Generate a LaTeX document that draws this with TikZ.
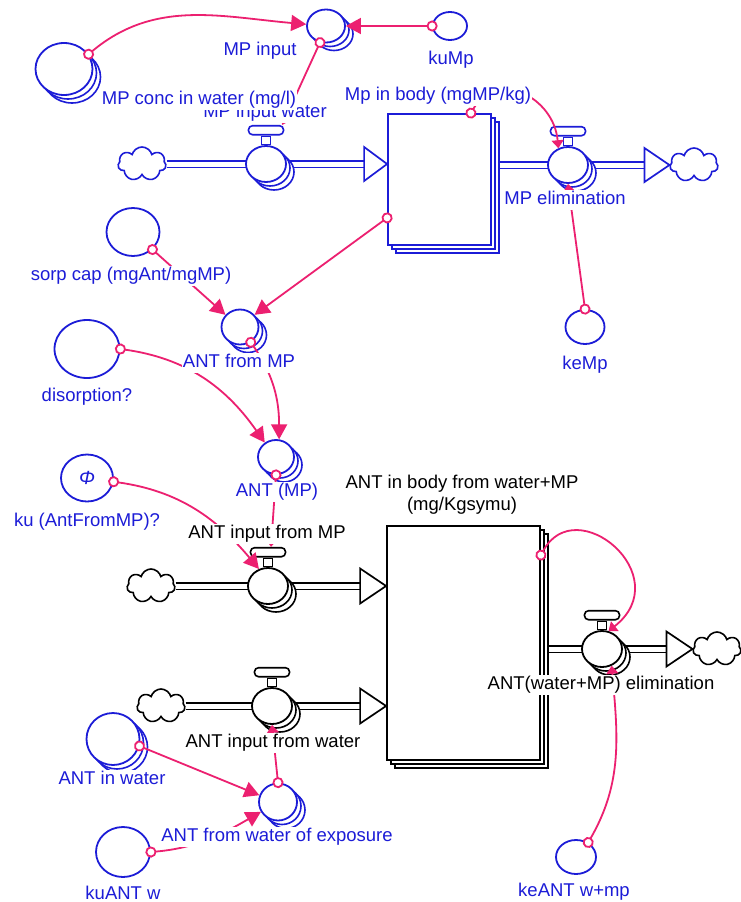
\documentclass[tikz,border=0pt]{standalone}
\usepackage{fontspec}
\setmainfont{Liberation Sans}
\usetikzlibrary{arrows.meta,calc,shapes.geometric,shapes.symbols,shadows}
\definecolor{mblue}{RGB}{28,28,215}
\definecolor{mpink}{RGB}{236,32,112}
\tikzset{
  stack/.style={general shadow={shadow xshift=8pt,shadow yshift=-8pt,draw=#1,fill=white,line width=1.6pt},
                general shadow={shadow xshift=4pt,shadow yshift=-4pt,draw=#1,fill=white,line width=1.6pt}},
  conv/.style 2 args={ellipse,draw=mblue,fill=white,line width=1.8pt,inner sep=0pt,minimum width=#1,minimum height=#2},
  aconv/.style 2 args={conv={#1}{#2},stack=mblue},
  valve/.style={ellipse,draw=#1,fill=white,line width=1.8pt,inner sep=0pt,minimum width=40pt,minimum height=36pt,stack=#1},
  vstem/.style={rectangle,draw=#1,fill=white,line width=1.6pt,inner sep=0pt,minimum width=9pt,minimum height=8pt,anchor=south},
  vbar/.style={rectangle,rounded corners=4pt,draw=#1,fill=white,line width=1.6pt,inner sep=0pt,minimum width=35pt,minimum height=9pt,anchor=south},
  stock/.style={rectangle,draw=#1,fill=white,line width=1.8pt,inner sep=0pt,stack=#1},
  sink/.style={cloud,cloud puffs=7,aspect=1.5,draw=#1,fill=white,line width=1.6pt,inner sep=0pt,minimum width=48pt,minimum height=34pt},
  pipe/.style={draw=#1,line width=1.7pt,double=white,double distance=5pt},
  head/.style={draw=#1,fill=white,line width=1.7pt,line join=miter},
  link/.style={draw=mpink,line width=1.8pt,arrows={Circle[length=11pt,fill=white]-Triangle[length=15pt,width=16pt]},shorten <=-5.5pt},
  vlink/.style={link,arrows={Circle[length=11pt,fill=white]-Triangle[length=8pt,width=12pt]}},
  lbl/.style={fill=white,inner sep=1pt,text height=13.5pt,text depth=4pt,font=\fontsize{18.5}{22}\selectfont,text=#1,yshift=-2pt},
  lbl/.default=mblue
}
\begin{document}
\begin{tikzpicture}[x=1pt,y=1pt]
\fill[white](0,0)rectangle(740,-902);
\useasboundingbox(0,0)rectangle(740,-902);
% clouds and stocks
\node[sink=mblue](c1)at(142,-164){};
\node[sink=mblue](c2)at(694,-165){};
\node[sink=black](c3)at(151,-586){};
\node[sink=black](c4)at(717,-649){};
\node[sink=black](c5)at(161,-706){};
\node[stock=mblue,minimum width=103pt,minimum height=131pt](s1)at(439.5,-179.5){};
\node[stock=black,minimum width=153pt,minimum height=234pt](s2)at(463.5,-643){};
% pipes
\coordinate(h1)at($(s1.west|-c1.east)+(-23,0)$);
\coordinate(h2)at($(c2.west)+(-25,0)$);
\coordinate(h3)at($(s2.west|-c3.east)+(-26,0)$);
\coordinate(h4)at($(c4.west)+(-26,0)$);
\coordinate(h5)at($(s2.west|-c5.east)+(-26,0)$);
\draw[pipe=mblue](c1.east)--(h1);
\draw[pipe=mblue]($(s1.east|-c2.west)+(8,0)$)--(h2);
\draw[pipe=black](c3.east)--(h3);
\draw[pipe=black]($(s2.east|-c4.west)+(8,0)$)--(h4);
\draw[pipe=black](c5.east)--(h5);
\draw[head=mblue](s1.west|-c1.east)--($(h1)+(0,17)$)--($(h1)+(0,-17)$)--cycle;
\draw[head=mblue](c2.west)--($(h2)+(0,17)$)--($(h2)+(0,-17)$)--cycle;
\draw[head=black](s2.west|-c3.east)--($(h3)+(0,17.5)$)--($(h3)+(0,-17.5)$)--cycle;
\draw[head=black](c4.west)--($(h4)+(0,17.5)$)--($(h4)+(0,-17.5)$)--cycle;
\draw[head=black](s2.west|-c5.east)--($(h5)+(0,17.5)$)--($(h5)+(0,-17.5)$)--cycle;
% valves
\node[valve=mblue](v1)at(266,-164){};\node[vstem=mblue](v1s)at(v1.north){};\node[vbar=mblue](v1b)at(v1s.north){};
\node[valve=mblue](v2)at(568,-165){};\node[vstem=mblue](v2s)at(v2.north){};\node[vbar=mblue](v2b)at(v2s.north){};
\node[valve=black](v3)at(268,-586){};\node[vstem=black](v3s)at(v3.north){};\node[vbar=black](v3b)at(v3s.north){};
\node[valve=black](v4)at(602,-649){};\node[vstem=black](v4s)at(v4.north){};\node[vbar=black](v4b)at(v4s.north){};
\node[valve=black](v5)at(272,-706){};\node[vstem=black](v5s)at(v5.north){};\node[vbar=black](v5b)at(v5s.north){};
% converters
\node[aconv={57pt}{52pt}](mpconc)at(64,-69){};
\node[aconv={38pt}{33pt}](mpinput)at(326,-26){};
\node[conv={34pt}{28pt}](kump)at(450,-26){};
\node[conv={53pt}{48pt}](sorp)at(133,-232){};
\node[aconv={37pt}{35pt}](afmp)at(240,-327){};
\node[conv={65pt}{58pt}](dis)at(87,-349){};
\node[aconv={36pt}{34pt}](antmp)at(276,-457){};
\node[conv={52pt}{47pt},text=mblue,font=\fontsize{19}{19}\selectfont\itshape](ku)at(87,-478){Φ};
\node[conv={39pt}{34pt}](kemp)at(585,-327){};
\node[aconv={53pt}{52pt}](aiw)at(113,-739){};
\node[aconv={38pt}{37pt}](afwe)at(278,-802){};
\node[conv={54pt}{50pt}](kuw)at(123,-852){};
\node[conv={40pt}{34pt}](keant)at(576,-857){};
% connectors
\draw[link](mpconc.31)to[out=40,in=175](mpinput.175);
\draw[link](kump.west)--(mpinput.east);
\draw[vlink](mpinput.-110)--([xshift=-2pt]v1b.north east);
\draw[vlink]([xshift=-21pt]s1.north east)to[out=60,in=95,looseness=1.4](v2.120);
\draw[vlink](kemp.north)--(v2.south);
\draw[link]($(s1.south west)+(0,28)$)--(afmp.40);
\draw[link](sorp.-42)--(afmp.140);
\draw[link](dis.east)to[out=-8,in=125](antmp.128);
\draw[link](afmp.-55)to[out=-55,in=90](antmp.80);
\draw[link](ku.-8)to[out=-8,in=130](v3.118);
\draw[vlink](antmp.south)--([xshift=3pt]v3b.north);
\draw[vlink]($(s2.north east)+(0,-30)$).. controls +(35,65) and +(70,55) ..(v4.70);
\draw[vlink](keant.50)to[out=60,in=-85](v4.-60);
\draw[link](aiw.-15)--(afwe.160);
\draw[link](kuw.east)to[out=5,in=-150](afwe.-150);
\draw[vlink](afwe.north)--(v5.south);
% labels
\node[lbl](lmpinw)at(265,-111){MP input water};
\node[lbl](lmpconc)at(199,-98){MP conc in water (mg/l)};
\node[lbl](lmpinput)at(260,-49){MP input};
\node[lbl](lkump)at(451,-58){kuMp};
\node[lbl](ls1)at(438,-94){Mp in body (mgMP/kg)};
\node[lbl](lv2)at(565,-198){MP elimination};
\node[lbl](lkemp)at(585,-363){keMp};
\node[lbl](lsorp)at(131,-274){sorp cap (mgAnt/mgMP)};
\node[lbl](lafmp)at(239,-361){ANT from MP};
\node[lbl](ldis)at(87,-395){disorption?};
\node[lbl](lantmp)at(277,-490){ANT (MP)};
\node[lbl](lku)at(87,-520){ku (AntFromMP)?};
\node[lbl=black](lv3)at(267,-532){ANT input from MP};
\node[lbl=black,align=center,text height=,text depth=](ls2)at(462,-493){ANT in body from water+MP\\(mg/Kgsymu)};
\node[lbl=black](lv4)at(601,-683){ANT(water+MP) elimination};
\node[lbl=black](lv5)at(273,-741){ANT input from water};
\node[lbl](laiw)at(112,-778){ANT in water};
\node[lbl](lafwe)at(277,-835){ANT from water of exposure};
\node[lbl](lkuw)at(123,-893){kuANT w};
\node[lbl](lkeant)at(574,-890){keANT w+mp};
\end{tikzpicture}
\end{document}
